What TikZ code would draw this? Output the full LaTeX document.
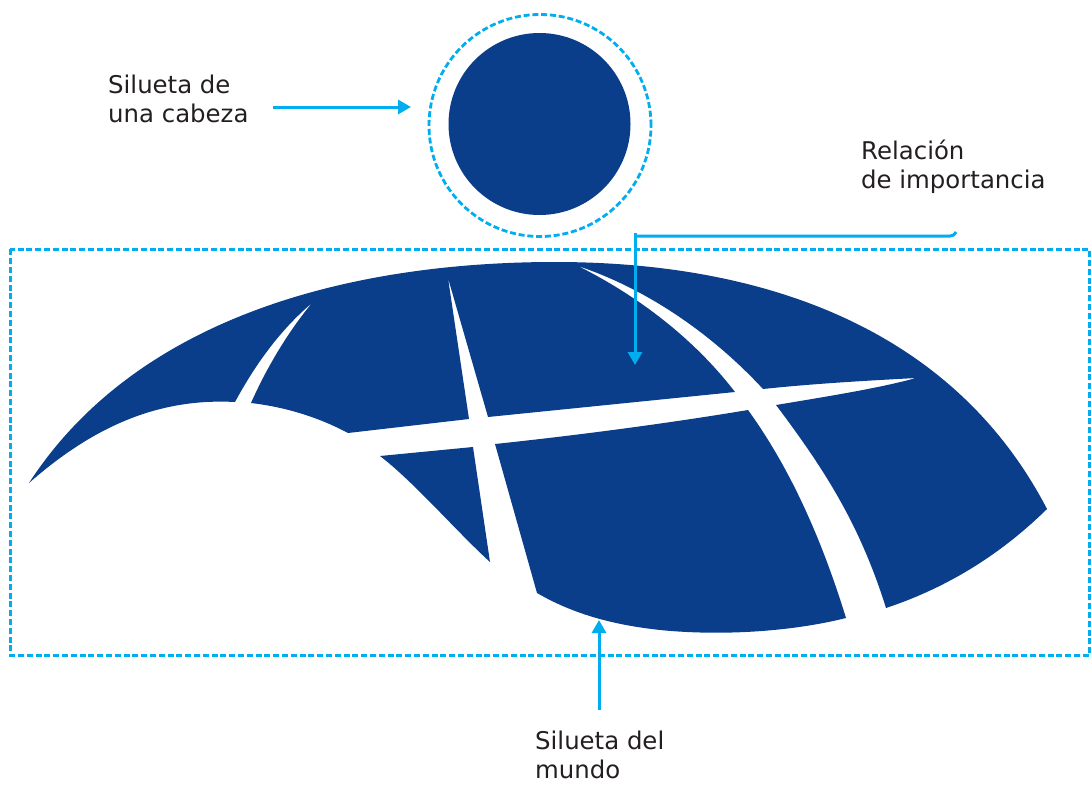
\documentclass[tikz,border=0pt]{standalone}
\usepackage{fontspec}
\setmainfont{DejaVu Sans}
\usetikzlibrary{arrows.meta}
\definecolor{globe}{HTML}{0A3E8A}
\definecolor{cyanline}{HTML}{00AEEF}
\definecolor{inktext}{HTML}{231F20}
\tikzset{
  solidblue/.style={fill=globe,draw=none},
  guide/.style={draw=cyanline,line width=2.8pt,dash pattern=on 6pt off 2.8pt},
  pointer/.style={draw=cyanline,line width=3pt,-{Triangle[length=13pt,width=14pt]}},
  caption/.style={text=inktext,font=\fontsize{24.4}{29}\selectfont,align=left,anchor=north west,inner sep=0pt}
}
\begin{document}
\begin{tikzpicture}[x=1pt,y=-1pt]
\useasboundingbox (0,0) rectangle (1091,784);
% head
\node[circle,solidblue,minimum size=182pt,inner sep=0pt] (head) at (539.5,124) {};
\node[circle,guide,minimum size=222pt,inner sep=0pt] (headring) at (540,125.5) {};
% world
\path[solidblue]
  (29,483) .. controls (140,312) and (360,262) .. (555,262)
  .. controls (770,262) and (955,332) .. (1047,509)
  .. controls (995,560) and (940,590) .. (886,608)
  .. controls (860,525) and (825,470) .. (776,405)
  .. controls (830,396) and (880,388) .. (916,378)
  .. controls (860,381) and (810,384) .. (763,389)
  .. controls (715,337) and (650,290) .. (578,266)
  .. controls (640,297) and (695,340) .. (735,392)
  -- (488,417) -- (448,278) -- (469,419) -- (348,433)
  .. controls (318,417) and (285,407) .. (251,403)
  .. controls (267,367) and (288,332) .. (312,303)
  .. controls (280,330) and (255,365) .. (235,402)
  .. controls (160,398) and (95,425) .. (29,483) -- cycle;
\path[solidblue] (380,456) -- (473,447) -- (490,562)
  .. controls (455,530) and (415,483) .. (380,456) -- cycle;
\path[solidblue] (495,444) .. controls (580,435) and (670,423) .. (748,410)
  .. controls (795,475) and (825,550) .. (846,618)
  .. controls (790,632) and (720,636) .. (660,630)
  .. controls (615,625) and (575,615) .. (537,593) -- cycle;
% dashed frame
\coordinate (frameA) at (10.4,249.4);
\coordinate (frameB) at (1089.4,655.4);
\draw[guide,line width=3.2pt] (frameA) rectangle (frameB);
% captions
\node[caption] (cabeza) at (108,75) {Silueta de\\una cabeza};
\node[caption] (relacion) at (861,140) {Relación\\de importancia};
\node[caption] (mundo) at (535,731) {Silueta del\\mundo};
% connectors
\coordinate (headfrom) at (273,107);
\coordinate (headto) at (411,107);
\draw[pointer] (headfrom) -- (headto);
\coordinate (relcurl) at (956,232);
\coordinate (relcorner) at (635,236);
\coordinate (reltop) at (635,233);
\coordinate (relto) at (635,365);
\draw[draw=cyanline,line width=3pt] (relcurl) .. controls (954,235) and (953,236) .. (950,236) -- (relcorner);
\draw[pointer] (reltop) -- (relto);
\coordinate (worldfrom) at (599,710);
\coordinate (worldto) at (599,620);
\draw[pointer] (worldfrom) -- (worldto);
\end{tikzpicture}
\end{document}
